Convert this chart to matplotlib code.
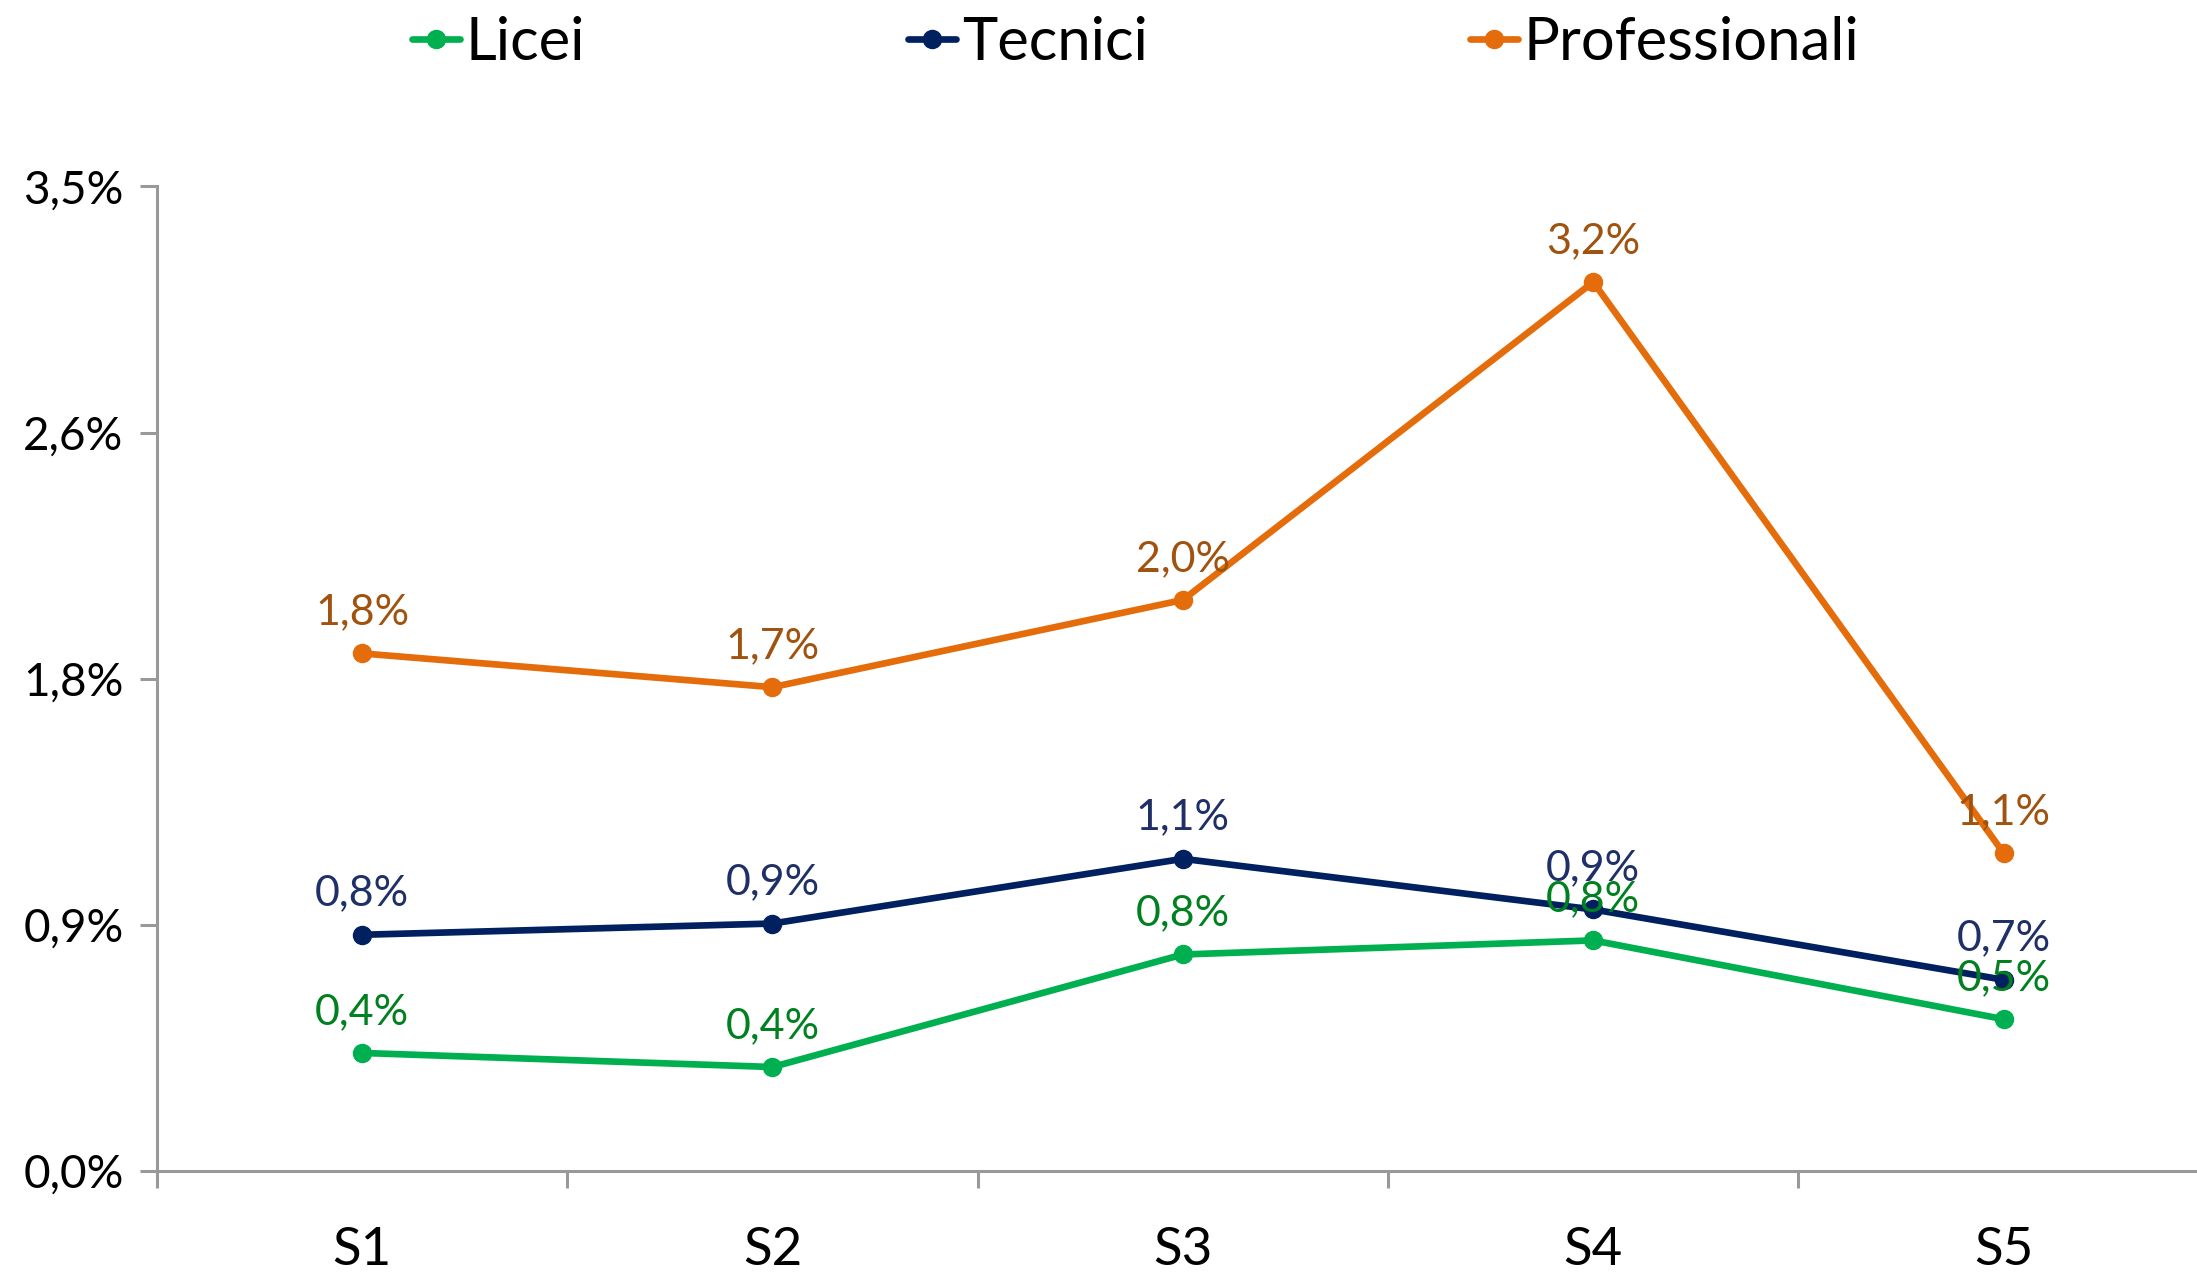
import matplotlib
matplotlib.use("Agg")
import matplotlib.pyplot as plt
from matplotlib.ticker import FixedLocator, FuncFormatter

plt.rcParams['font.family'] = ['Lato', 'DejaVu Sans']

# data (percent)
categories = ["S1", "S2", "S3", "S4", "S5"]
licei = [0.42, 0.37, 0.77, 0.82, 0.54]
tecnici = [0.84, 0.88, 1.11, 0.93, 0.68]
professionali = [1.84, 1.72, 2.03, 3.16, 1.13]
yticks = [0.0, 0.875, 1.75, 2.625, 3.5]

series = [
    ("Licei", licei, "#00B050", "#00801F"),
    ("Tecnici", tecnici, "#002060", "#1F3068"),
    ("Professionali", professionali, "#E46C0A", "#A0520F"),
]


def pct(v, pos=None):
    return f"{v:.1f}".replace(".", ",") + "%"


fig = plt.figure(figsize=(21.97, 12.72), dpi=100)
ax = fig.add_axes([0.0714, 0.0793, 0.934, 0.7742])

x = list(range(len(categories)))
handles = []
for name, vals, col, lcol in series:
    h, = ax.plot(x, vals, "-o", color=col, lw=4.8, ms=13, label=name,
                 solid_capstyle="round", clip_on=False)
    handles.append(h)
    for xi, v in zip(x, vals):
        ax.annotate(pct(v), (xi, v), xytext=(0, 16), textcoords="offset points",
                    ha="center", va="bottom", fontsize=31, color=lcol)

ax.set_xlim(-0.5, 4.5)
ax.set_ylim(0, 3.5)
ax.yaxis.set_major_locator(FixedLocator(yticks))
ax.yaxis.set_major_formatter(FuncFormatter(pct))
ax.set_xticks(x)
ax.set_xticklabels(categories)
ax.xaxis.set_minor_locator(FixedLocator([i - 0.5 for i in range(6)]))

for s in ["top", "right"]:
    ax.spines[s].set_visible(False)
for s in ["left", "bottom"]:
    ax.spines[s].set_color("#999999")
    ax.spines[s].set_linewidth(2.2)

ax.tick_params(axis="x", which="major", length=0, labelsize=38, pad=40)
ax.tick_params(axis="x", which="minor", length=12, width=2.2, color="#999999")
ax.tick_params(axis="y", length=12, width=2.2, color="#999999", labelsize=33, pad=12)

fig.legend(handles=handles, loc="center", bbox_to_anchor=(0.517, 0.966), ncol=3,
           frameon=False, fontsize=43, handlelength=0.8, handletextpad=0.1,
           columnspacing=5.4)

fig.savefig("out.png", dpi=100)
